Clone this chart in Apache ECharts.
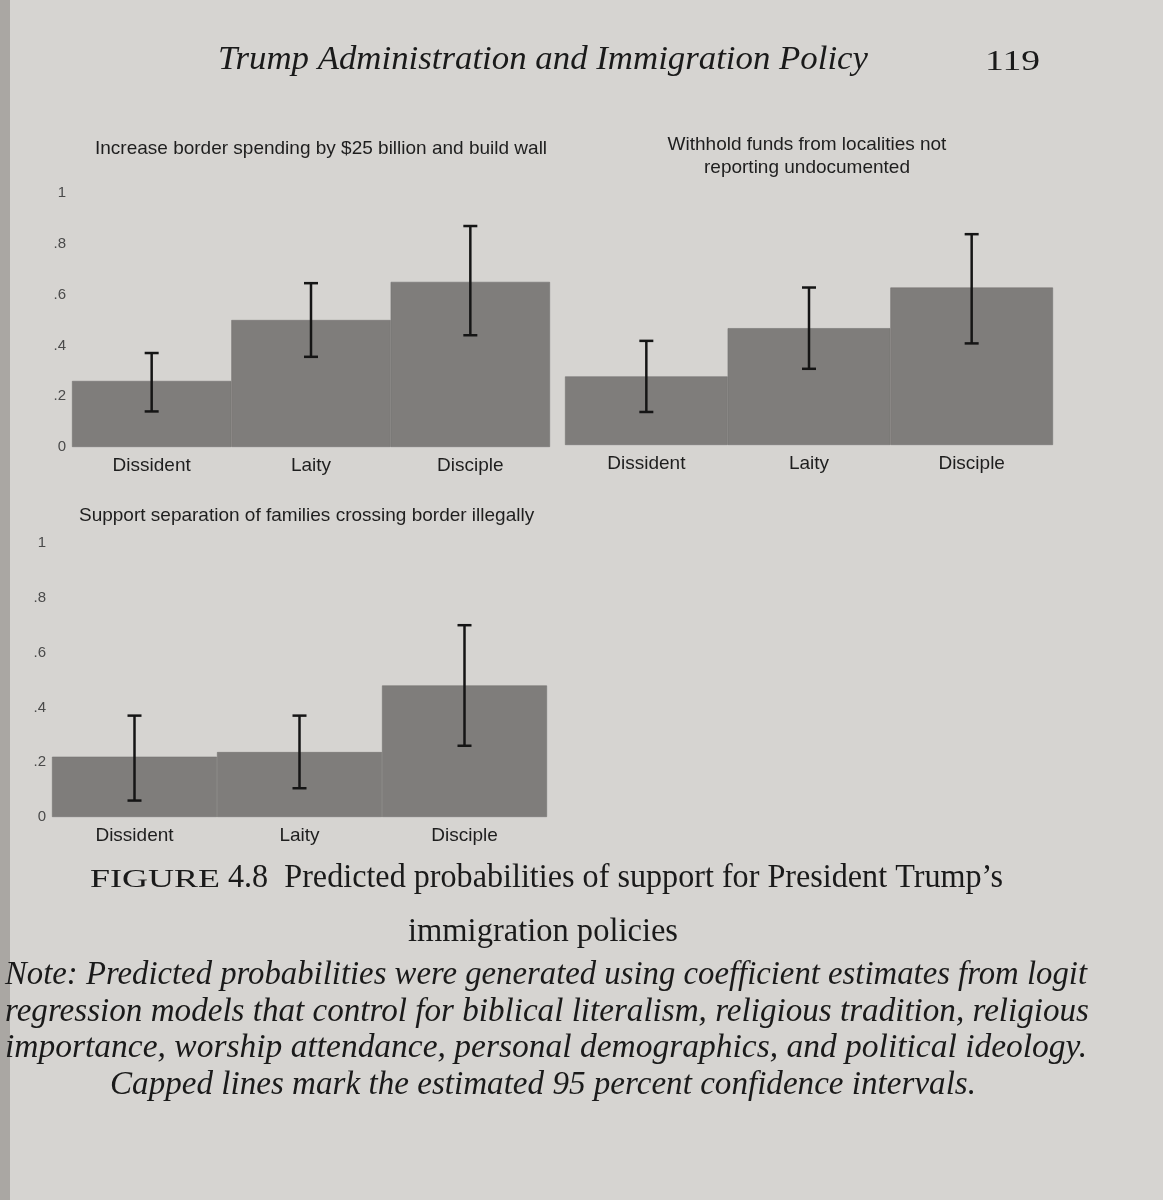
<!DOCTYPE html>
<html><head><meta charset="utf-8">
<script src="https://cdn.jsdelivr.net/npm/echarts@6/dist/echarts.min.js"></script>
<style>html,body{margin:0;padding:0;background:#d6d4d1;}#c{width:1163px;height:1200px;}</style>
</head><body><div id="c"></div>
<script>
const categories = ['Dissident', 'Laity', 'Disciple'];

const wallValues = [0.26, 0.50, 0.65];
const wallLow = [0.14, 0.355, 0.44];
const wallHigh = [0.37, 0.645, 0.87];

const fundsValues = [0.27, 0.46, 0.62];
const fundsLow = [0.13, 0.30, 0.40];
const fundsHigh = [0.41, 0.62, 0.83];

const sepValues = [0.22, 0.237, 0.48];
const sepLow = [0.06, 0.105, 0.26];
const sepHigh = [0.37, 0.37, 0.70];

const panelTitles = [
  'Increase border spending by $25 billion and build wall',
  'Withhold funds from localities not\nreporting undocumented',
  'Support separation of families crossing border illegally'
];

const headerText = 'Trump Administration and Immigration Policy';
const pageNumber = '119';
const captionLabel = 'FIGURE';
const captionLine1 = '4.8  Predicted probabilities of support for President Trump\u2019s';
const captionLine2 = 'immigration policies';
const noteLines = [
  'Note: Predicted probabilities were generated using coefficient estimates from logit',
  'regression models that control for biblical literalism, religious tradition, religious',
  'importance, worship attendance, personal demographics, and political ideology.',
  'Capped lines mark the estimated 95 percent confidence intervals.'
];

const barColor = '#7f7d7b';
const sans = 'Liberation Sans, Arial, sans-serif';
const serif = '"Liberation Serif", "DejaVu Serif", serif';
const ink = '#1a1a1a';

function tickFmt(v) {
  if (v === 0) return '0';
  if (v === 1) return '1';
  return String(Math.round(v * 10) / 10).replace(/^0/, '');
}

const mctx = document.createElement('canvas').getContext('2d');
function fitted(text, font, x, y, width, align) {
  mctx.font = font;
  const w = mctx.measureText(text).width;
  const sx = width / w;
  const ox = align === 'center' ? x : x;
  return {type: 'text', x: ox, y: y, scaleX: sx, silent: true,
    style: {text: text, font: font, fill: ink, textAlign: align || 'left', textVerticalAlign: 'middle'}};
}

const grids = [
  {left: 72, top: 193, width: 478, height: 254},
  {left: 565, top: 191, width: 488, height: 254},
  {left: 52, top: 543, width: 495, height: 274}
];

const xAxes = grids.map((g, i) => ({
  type: 'category', gridIndex: i, data: categories,
  axisLine: {show: false}, axisTick: {show: false},
  axisLabel: {color: '#1e1e1e', fontFamily: sans, fontSize: 19, margin: 9}
}));
const yAxes = grids.map((g, i) => ({
  type: 'value', gridIndex: i, min: 0, max: 1, interval: 0.2,
  splitLine: {show: false}, axisLine: {show: false}, axisTick: {show: false},
  axisLabel: {show: i !== 1, color: '#4a4a4a', fontFamily: sans, fontSize: 15,
    margin: i === 2 ? 6 : 6, formatter: tickFmt}
}));

const sets = [
  [wallValues, wallLow, wallHigh],
  [fundsValues, fundsLow, fundsHigh],
  [sepValues, sepLow, sepHigh]
];

const series = [];
sets.forEach((s, i) => {
  series.push({
    type: 'bar', xAxisIndex: i, yAxisIndex: i, data: s[0],
    barCategoryGap: '0%',
    itemStyle: {color: barColor, borderColor: '#767472', borderWidth: 0.6},
    silent: true
  });
  series.push({
    type: 'custom', xAxisIndex: i, yAxisIndex: i,
    data: categories.map((c, k) => [k, s[1][k], s[2][k]]),
    renderItem: function (params, api) {
      const x = api.value(0);
      const lo = api.coord([x, api.value(1)]);
      const hi = api.coord([x, api.value(2)]);
      const w = 7;
      const st = {stroke: '#151515', lineWidth: 2.5};
      return {type: 'group', children: [
        {type: 'line', shape: {x1: lo[0], y1: lo[1], x2: hi[0], y2: hi[1]}, style: st},
        {type: 'line', shape: {x1: lo[0] - w, y1: lo[1], x2: lo[0] + w, y2: lo[1]}, style: st},
        {type: 'line', shape: {x1: hi[0] - w, y1: hi[1], x2: hi[0] + w, y2: hi[1]}, style: st}
      ]};
    },
    z: 5, silent: true
  });
});

const tStyle = {fontFamily: sans, fontSize: 19, fontWeight: 'normal', color: '#1e1e1e'};
const titles = [
  {text: panelTitles[0], left: 90, top: 134, textStyle: tStyle},
  {text: panelTitles[1], left: 802, top: 128, textAlign: 'center', textStyle: Object.assign({}, tStyle, {lineHeight: 23, align: 'center'})},
  {text: panelTitles[2], left: 74, top: 501, textStyle: tStyle}
];

const graphics = [
  {type: 'rect', left: 0, top: 0, shape: {width: 10, height: 1200}, style: {fill: '#aaa7a3'}, silent: true},
  fitted(headerText, 'italic 33px ' + serif, 218, 60, 650),
  fitted(pageNumber, '30px ' + serif, 985, 62, 55),
  fitted(captionLabel, '25px ' + serif, 90, 880, 130),
  fitted(captionLine1, '33px ' + serif, 228, 878, 775),
  fitted(captionLine2, '33px ' + serif, 408, 932, 270),
  fitted(noteLines[0], 'italic 34px ' + serif, 5, 975, 1082),
  fitted(noteLines[1], 'italic 34px ' + serif, 5, 1012, 1084),
  fitted(noteLines[2], 'italic 34px ' + serif, 5, 1048, 1082),
  fitted(noteLines[3], 'italic 34px ' + serif, 110, 1085, 866)
];

const chart = echarts.init(document.getElementById('c'));
chart.setOption({
  backgroundColor: '#d6d4d1',
  animation: false,
  title: titles,
  grid: grids,
  xAxis: xAxes,
  yAxis: yAxes,
  series: series,
  graphic: graphics
});
</script></body></html>
